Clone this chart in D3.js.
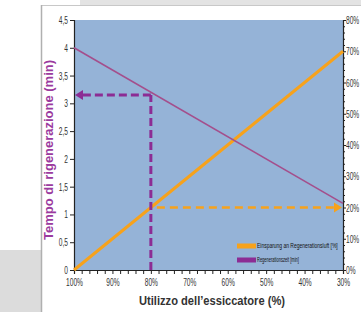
<!DOCTYPE html>
<html>
<head>
<meta charset="utf-8">
<script src="https://cdn.jsdelivr.net/npm/d3@7"></script>
<style>
  body { margin:0; background:#fff; }
  svg { display:block; }
  .tick text { font-family:"Liberation Sans", Arial, sans-serif; font-size:11px; fill:#333; }
</style>
</head>
<body>
<div id="chart"></div>
<script>
// data
const utilization = [100, 30];          // % dryer utilisation (x axis, reversed)
const savings = [0, 70];                // Einsparung an Regenerationsluft [%]
const regenTime = [4, 1.2];             // Regenerationszeit [min]
const markerUtil = 80;
const markerTime = 3.15;
const markerSaving = 20;
const xTicks = [100, 90, 80, 70, 60, 50, 40, 30];
const yLeftTicks = [0, 0.5, 1, 1.5, 2, 2.5, 3, 3.5, 4, 4.5];
const yRightTicks = [0, 10, 20, 30, 40, 50, 60, 70, 80];
const legendItems = ['Einsparung an Regenerationsluft [%]', 'Regenerationszeit [min]'];

const width = 361, height = 312;
const margin = {t:20, r:18, b:42, l:74};
const w = 343 - margin.l;
const h = 270 - margin.t;

const orange = '#f7a21b';
const purpleLine = '#a44f8c';
const purpleDash = '#8c2c94';

// squeeze tick text horizontally to mimic the narrow font of the original
function condense(sel, f) {
  sel.each(function() {
    const t = d3.select(this);
    const x = +t.attr('x') || 0;
    t.attr('x', 0).attr('transform', `translate(${x},0) scale(${f},1)`);
  });
}

const svg = d3.select('#chart').append('svg')
  .attr('width', width).attr('height', height);

// frame decoration around the picture
svg.append('rect').attr('x',80).attr('y',0).attr('width',281).attr('height',5).attr('fill','#e3e3e3');
svg.append('rect').attr('x',0).attr('y',250).attr('width',41).attr('height',62).attr('fill','#dcdcdc');
svg.append('line').attr('x1',41.5).attr('x2',361).attr('y1',5.5).attr('y2',5.5).attr('stroke','#c8c8c8');
svg.append('line').attr('x1',41.5).attr('x2',41.5).attr('y1',5).attr('y2',312).attr('stroke','#b0b0b0').attr('stroke-width',1.5);

const plot = svg.append('g').attr('transform', `translate(${margin.l},${margin.t})`);

const scaleX = d3.scaleLinear().domain([100, 30]).range([0, w]);
const scaleYL = d3.scaleLinear().domain([0, 4.5]).range([h, 0]);
const scaleYR = d3.scaleLinear().domain([0, 80]).range([h, 0]);

plot.append('rect').attr('width', w).attr('height', h).attr('fill', '#95b3d7');

const fmt = d => String(d).replace('.', ',');

// axes
const axisX = d3.axisBottom(scaleX).tickValues(d3.range(100, 29, -2)).tickSize(4)
  .tickFormat(d => d + '%');
const axisYL = d3.axisLeft(scaleYL).tickValues(yLeftTicks).tickSize(4).tickFormat(fmt);
const axisYR = d3.axisRight(scaleYR).tickValues(d3.range(0, 81, 2)).tickSize(3)
  .tickFormat(d => d + '%');

const gx = plot.append('g').attr('transform', `translate(0,${h})`).call(axisX);
gx.selectAll('text').attr('dy', '0.85em');
gx.selectAll('.tick').filter(d => !xTicks.includes(d)).select('text').remove();
const gl = plot.append('g').call(axisYL);
gl.selectAll('text').attr('x', -6);
const gr = plot.append('g').attr('transform', `translate(${w},0)`).call(axisYR);
gr.selectAll('text').attr('x', 3);
gr.selectAll('.tick').filter(d => !yRightTicks.includes(d)).select('text').remove();
gr.selectAll('.tick').filter(d => !yRightTicks.includes(d)).select('line').attr('x2', 2);
[gx, gl, gr].forEach(g => {
  g.select('.domain').attr('stroke', '#222').attr('stroke-width', 1.2);
  g.selectAll('.tick line').attr('stroke', '#222');
  condense(g.selectAll('text'), 0.6);
});

// lines
const line = (ys, sy) => d3.line().x((d, i) => scaleX(utilization[i])).y(d => sy(d))(ys);
plot.append('path').attr('d', line(savings, scaleYR))
  .attr('fill', 'none').attr('stroke', orange).attr('stroke-width', 3);
plot.append('path').attr('d', line(regenTime, scaleYL))
  .attr('fill', 'none').attr('stroke', purpleLine).attr('stroke-width', 1.6);

// dashed guides
const mx = scaleX(markerUtil);
const my = scaleYL(markerTime);
const ms = scaleYR(markerSaving);
plot.append('line').attr('x1', mx).attr('x2', mx).attr('y1', h).attr('y2', my)
  .attr('stroke', purpleDash).attr('stroke-width', 3).attr('stroke-dasharray', '8,4');
plot.append('line').attr('x1', mx).attr('x2', 8).attr('y1', my).attr('y2', my)
  .attr('stroke', purpleDash).attr('stroke-width', 3).attr('stroke-dasharray', '8,4');
plot.append('path').attr('d', `M1,${my} L9,${my - 5} L9,${my + 5} Z`).attr('fill', purpleDash);

plot.append('line').attr('x1', mx + 6).attr('x2', w - 8).attr('y1', ms).attr('y2', ms)
  .attr('stroke', orange).attr('stroke-width', 2.5).attr('stroke-dasharray', '8,5');
plot.append('path').attr('d', `M${w - 1},${ms} L${w - 9},${ms - 5} L${w - 9},${ms + 5} Z`).attr('fill', orange);

// legend
const legend = plot.append('g').attr('transform', `translate(${237 - margin.l},${246 - margin.t})`);
const legendLen = [81, 42];
legendItems.forEach((t, i) => {
  legend.append('rect').attr('x', 0).attr('y', i * 14 - 2.5).attr('width', 19).attr('height', 5)
    .attr('fill', i === 0 ? orange : purpleDash);
  const txt = legend.append('text').attr('dy', '0.35em')
    .style('font-family', '"Liberation Sans", Arial, sans-serif')
    .style('font-size', '6.5px').attr('fill', '#111').text(t);
  const f = legendLen[i] / txt.node().getComputedTextLength();
  txt.attr('transform', `translate(20,${i * 14}) scale(${f},1)`);
});

// axis titles
svg.append('text').attr('transform', 'translate(53,150) rotate(-90)')
  .attr('text-anchor', 'middle').style('font-family', 'Arial, "Liberation Sans", sans-serif')
  .style('font-size', '12.5px').style('font-weight', 'bold').attr('fill', '#9b3a9e')
  .attr('textLength', 180).attr('lengthAdjust', 'spacingAndGlyphs')
  .text('Tempo di rigenerazione (min)');
svg.append('text').attr('x', 212).attr('y', 305)
  .attr('text-anchor', 'middle').style('font-family', 'Arial, "Liberation Sans", sans-serif')
  .style('font-size', '12.5px').style('font-weight', 'bold').attr('fill', '#333')
  .attr('textLength', 146).attr('lengthAdjust', 'spacingAndGlyphs')
  .text('Utilizzo dell\u2019essiccatore (%)');
</script>
</body>
</html>
